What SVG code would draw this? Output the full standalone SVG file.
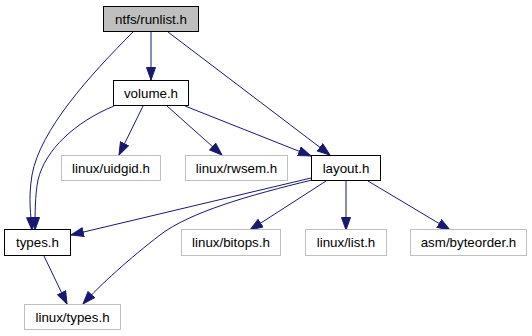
<svg xmlns="http://www.w3.org/2000/svg" width="532" height="336" viewBox="0 0 532 336">
  <style>
    .box { fill: #ffffff; stroke: #000000; stroke-width: 1; }
    .box.ext { stroke: #bfbfbf; }
    .box.root { fill: #bfbfbf; }
    .lbl { font-family: "Liberation Sans", Arial, sans-serif; font-size: 13.33px; fill: #000000; text-anchor: middle; }
    .edge { fill: none; stroke: #191970; stroke-width: 1; marker-end: url(#arrow); }
  </style>
  <defs>
    <marker id="arrow" markerUnits="userSpaceOnUse" markerWidth="15" markerHeight="11" refX="13" refY="5" orient="auto">
      <path d="M0.5,0.5 L13,5 L0.5,9.5 z" fill="#191970" stroke="#191970" stroke-width="1"/>
    </marker>
  </defs>

  <g id="edges">
    <path class="edge" d="M133,32 C90,75 40,130 32,175 C28,200 31,215 32,230"/>
    <path class="edge" d="M114,106 C75,122 45,150 38,180 C35,195 35,215 35,230"/>
    <path class="edge" d="M151,32 L151,80"/>
    <path class="edge" d="M168,32 L330,155"/>
    <path class="edge" d="M185,106 L311,156"/>
    <path class="edge" d="M143,106 L119,155"/>
    <path class="edge" d="M167,106 L222,155"/>
    <path class="edge" d="M311,178 L71,235"/>
    <path class="edge" d="M312,180 C250,195 190,212 160,235 C130,258 100,285 83,304"/>
    <path class="edge" d="M326,181 L250,230"/>
    <path class="edge" d="M346,181 L346,230"/>
    <path class="edge" d="M368,181 L450,230"/>
    <path class="edge" d="M44,256 L67,304"/>
  </g>

  <g id="node-runlist">
    <rect class="box root" x="103.5" y="6.5" width="95" height="25"/>
    <text class="lbl" x="151" y="23.5">ntfs/runlist.h</text>
  </g>
  <g id="node-volume">
    <rect class="box" x="113.5" y="80.5" width="75" height="25"/>
    <text class="lbl" x="151" y="97.5">volume.h</text>
  </g>
  <g id="node-uidgid">
    <rect class="box ext" x="61.5" y="155.5" width="99" height="25"/>
    <text class="lbl" x="111" y="172.5">linux/uidgid.h</text>
  </g>
  <g id="node-rwsem">
    <rect class="box ext" x="185.5" y="155.5" width="102" height="25"/>
    <text class="lbl" x="236.5" y="172.5">linux/rwsem.h</text>
  </g>
  <g id="node-layout">
    <rect class="box" x="311.5" y="155.5" width="69" height="25"/>
    <text class="lbl" x="346" y="172.5">layout.h</text>
  </g>
  <g id="node-types">
    <rect class="box" x="4.5" y="229.5" width="66" height="26"/>
    <text class="lbl" x="37.5" y="247">types.h</text>
  </g>
  <g id="node-bitops">
    <rect class="box ext" x="181.5" y="229.5" width="99" height="26"/>
    <text class="lbl" x="231" y="247">linux/bitops.h</text>
  </g>
  <g id="node-list">
    <rect class="box ext" x="305.5" y="229.5" width="81" height="26"/>
    <text class="lbl" x="346" y="247">linux/list.h</text>
  </g>
  <g id="node-byteorder">
    <rect class="box ext" x="410.5" y="229.5" width="116" height="26"/>
    <text class="lbl" x="468.5" y="247">asm/byteorder.h</text>
  </g>
  <g id="node-linux-types">
    <rect class="box ext" x="24.5" y="304.5" width="96" height="25"/>
    <text class="lbl" x="72.5" y="321.5">linux/types.h</text>
  </g>
</svg>
